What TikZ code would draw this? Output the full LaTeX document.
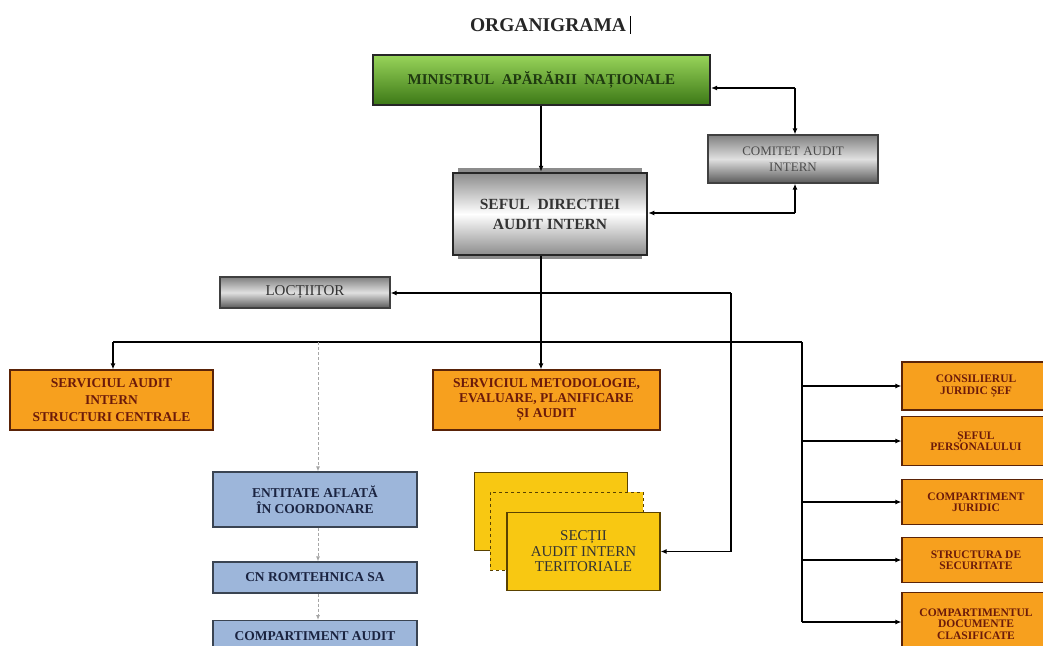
\documentclass[tikz,border=0pt]{standalone}
\usepackage{fontspec}
\setmainfont{Liberation Serif}
\usetikzlibrary{arrows.meta}
\definecolor{orangeF}{HTML}{F7A01E}
\definecolor{orangeD}{HTML}{5A2308}
\definecolor{orangeT}{HTML}{6B1A0A}
\definecolor{greenL}{HTML}{98D45A}
\definecolor{greenD}{HTML}{3C7816}
\definecolor{greenT}{HTML}{1F3A10}
\definecolor{blueF}{HTML}{9DB6DA}
\definecolor{blueD}{HTML}{3A4452}
\definecolor{blueT}{HTML}{1A2340}
\definecolor{yelF}{HTML}{F8C812}
\definecolor{yelD}{HTML}{5A4200}
\tikzset{
  arr/.style={draw=black, line width=1.5pt, -{Latex[length=6pt,width=5pt]}},
  conn/.style={draw=black, line width=1.5pt},
  lightarr/.style={draw=black!35, line width=0.9pt, densely dashed, -{Latex[length=5pt,width=4pt]}},
  orangebox/.style={draw=orangeD, line width=1.2pt, fill=orangeF, text=orangeT, align=center, inner sep=0pt,
     font=\fontsize{13}{15}\selectfont\bfseries},
  rightbox/.style={orangebox, minimum width=148pt, font=\fontsize{11.5}{11.5}\selectfont\bfseries},
  bluebox/.style={draw=blueD, line width=1.2pt, fill=blueF, text=blueT, align=center, inner sep=0pt,
     minimum width=204pt, font=\fontsize{13.5}{16}\selectfont\bfseries},
  graybox/.style={draw=black!75, line width=1.2pt, top color=black!50, bottom color=black!65, middle color=black!12,
     align=center, inner sep=0pt},
  yelbox/.style={fill=yelF, minimum width=153pt, minimum height=78pt, inner sep=0pt},
}
\begin{document}
\begin{tikzpicture}[x=1pt,y=-1pt]
\useasboundingbox (0,0) rectangle (1043,645);
\clip (0,0) rectangle (1043,645);
\fill[white] (0,0) rectangle (1043,645);

% title
\node[font=\fontsize{19.5}{22}\selectfont\bfseries, text=black!85, inner sep=0pt] (title) at (548,25) {ORGANIGRAMA};
\coordinate (cur1) at (630,16);
\coordinate (cur2) at (630,34);
\draw[line width=0.8pt] (cur1) -- (cur2);

% ministry
\node[draw=black!85, line width=2pt, top color=greenL, bottom color=greenD, minimum width=337pt, minimum height=50pt,
  text=greenT, font=\fontsize{15}{16}\selectfont\bfseries, inner sep=0pt] (min) at (541.5,80) {MINISTRUL~~APĂRĂRII~~NAȚIONALE};

% sef
\fill[black!45] (458,168) rectangle (642,259);
\node[draw=black!85, line width=2.5pt, top color=black!45, bottom color=black!45, middle color=white,
  minimum width=194pt, minimum height=82pt, align=center, inner sep=0pt,
  font=\fontsize{15.5}{20}\selectfont\bfseries, text=black!80] (sef) at (550,214) {SEFUL~~DIRECTIEI\\AUDIT INTERN};

% comitet
\node[graybox, minimum width=170pt, minimum height=48pt, text=black!70,
  font=\fontsize{13}{16}\selectfont] (com) at (793,159) {COMITET AUDIT\\INTERN};

% loctiitor
\node[graybox, minimum width=170pt, minimum height=31pt, text=black!80,
  font=\fontsize{15}{16}\selectfont] (loc) at (305,292.5) {LOCȚIITOR};

% services
\node[orangebox, minimum width=203pt, minimum height=60pt, font=\fontsize{13.5}{17}\selectfont\bfseries] (sa) at (111.5,400) {SERVICIUL AUDIT\\INTERN\\STRUCTURI CENTRALE};
\node[orangebox, minimum width=227pt, minimum height=60pt, font=\fontsize{13.5}{15}\selectfont\bfseries] (met) at (546.5,400) {SERVICIUL METODOLOGIE,\\EVALUARE, PLANIFICARE\\ȘI AUDIT};

% blue boxes
\node[bluebox, minimum height=55pt] (ent) at (315,499.5) {ENTITATE AFLATĂ\\ÎN COORDONARE};
\node[bluebox, minimum height=31pt] (cn) at (315,577.5) {CN ROMTEHNICA SA};
\node[bluebox, minimum height=30pt, anchor=north] (ca) at (315,620) {COMPARTIMENT AUDIT};

% sectii stack
\node[yelbox, draw=yelD, line width=0.9pt] (s1) at (551,511) {};
\node[yelbox, draw=yelD, line width=1pt, dashed] (s2) at (566.5,531) {};
\node[yelbox, draw=yelD, line width=1.2pt, align=center, text=black!80,
  font=\fontsize{15}{15.5}\selectfont] (fr) at (583.5,551.5) {SECȚII\\AUDIT INTERN\\TERITORIALE};

% right column
\node[rightbox, minimum height=48pt] (r1) at (976,386) {CONSILIERUL\\JURIDIC ȘEF};
\node[rightbox, minimum height=49pt] (r2) at (976,441) {ȘEFUL\\PERSONALULUI};
\node[rightbox, minimum height=45pt] (r3) at (976,502) {COMPARTIMENT\\JURIDIC};
\node[rightbox, minimum height=45pt] (r4) at (976,560) {STRUCTURA DE\\SECURITATE};
\node[rightbox, minimum height=60pt, anchor=north] (r5) at (976,592) {\rule{0pt}{10pt}COMPARTIMENTUL\\DOCUMENTE\\CLASIFICATE};

% connectors top
\coordinate (trunk) at (541,0);
\draw[arr] (trunk |- min.south) -- (trunk |- sef.north);
\coordinate (mc) at (795,88);
\draw[arr] (mc) -- (min.east |- mc);
\draw[arr] (mc) -- (mc |- com.north);
\coordinate (cs) at (795,213);
\draw[arr] (cs) -- (cs |- com.south);
\draw[arr] (cs) -- (cs -| sef.east);

% main trunk
\draw[arr] (trunk |- sef.south) -- (trunk |- met.north);

% loctiitor / sectii line
\coordinate (lt) at (731,293);
\coordinate (lb) at (731,551.5);
\draw[arr] (lt) -- (lt -| loc.east);
\draw[arr] (lt) -- (lb) -- (fr.east);

% bus
\coordinate (busL) at (113,342);
\coordinate (busR) at (802,342);
\coordinate (busD) at (318,342);
\coordinate (spineEnd) at (802,622);
\draw[conn] (busL) -- (busR);
\draw[arr] (busL) -- (busL |- sa.north);
\draw[conn] (busR) -- (spineEnd);
\draw[arr] (busR |- r1.west) -- (r1.west);
\draw[arr] (busR |- r2.west) -- (r2.west);
\draw[arr] (busR |- r3.west) -- (r3.west);
\draw[arr] (busR |- r4.west) -- (r4.west);
\draw[arr] (spineEnd) -- (spineEnd -| r5.west);

% light dashed chain
\draw[lightarr] (busD) -- (busD |- ent.north);
\draw[lightarr] (ent.south -| busD) -- (busD |- cn.north);
\draw[lightarr] (cn.south -| busD) -- (busD |- ca.north);
\end{tikzpicture}
\end{document}
